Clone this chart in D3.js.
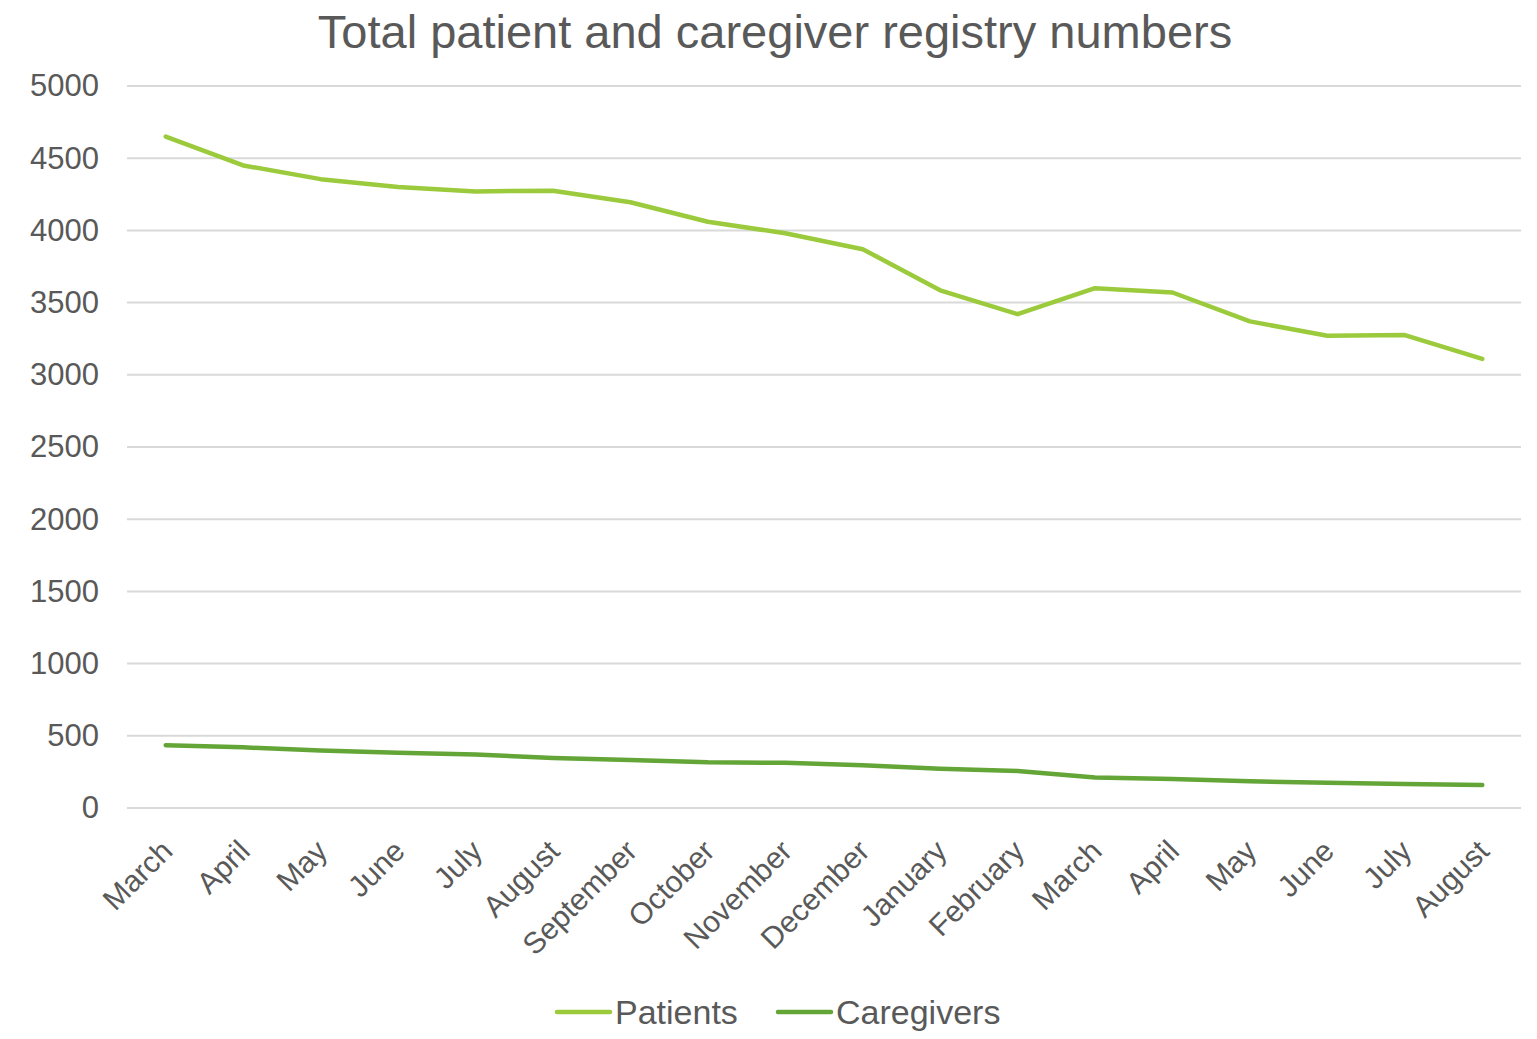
<!DOCTYPE html>
<html>
<head>
<meta charset="utf-8">
<script src="https://cdn.jsdelivr.net/npm/d3@7"></script>
<style>
  body { margin: 0; background: #fff; }
  text { font-family: "Liberation Sans", Arial, sans-serif; fill: #595959; }
</style>
</head>
<body>
<div id="chart-area"></div>
<script>
// months, March of one year through August of the next
var months = ["March", "April", "May", "June", "July", "August", "September",
  "October", "November", "December", "January", "February", "March", "April",
  "May", "June", "July", "August"];

var patients = [4650, 4450, 4355, 4300, 4270, 4275, 4195, 4060, 3980, 3870,
  3585, 3420, 3600, 3570, 3370, 3270, 3275, 3110];

var caregivers = [435, 420, 398, 382, 370, 346, 332, 316, 313, 296,
  271, 257, 212, 200, 185, 175, 167, 160];

var yTicks = [0, 500, 1000, 1500, 2000, 2500, 3000, 3500, 4000, 4500, 5000];

var seriesNames = ["Patients", "Caregivers"];
var colors = ["#9bcb3c", "#63a537"];

var W = 1537, H = 1039;
var margin = { left: 127, right: 16, top: 86, bottom: 231 };
var width = W - margin.left - margin.right;
var height = H - margin.top - margin.bottom;

var svg = d3.select("#chart-area").append("svg")
  .attr("width", W)
  .attr("height", H);

var g = svg.append("g")
  .attr("transform", "translate(" + margin.left + "," + margin.top + ")");

// title
svg.append("text")
  .attr("x", 775)
  .attr("y", 48)
  .attr("text-anchor", "middle")
  .attr("font-size", "47px")
  .text("Total patient and caregiver registry numbers");

// scales
var x = d3.scalePoint()
  .domain(d3.range(months.length))
  .range([0, width])
  .padding(0.5);

var y = d3.scaleLinear()
  .domain([0, 5000])
  .range([height, 0]);

// gridlines
g.selectAll("line.grid")
  .data(yTicks)
  .enter()
  .append("line")
  .attr("class", "grid")
  .attr("x1", 0)
  .attr("x2", width)
  .attr("y1", function(d) { return y(d); })
  .attr("y2", function(d) { return y(d); })
  .attr("stroke", "#d9d9d9")
  .attr("stroke-width", 2);

// Y axis
var yAxisCall = d3.axisLeft(y)
  .tickValues(yTicks)
  .tickFormat(d3.format("d"))
  .tickSize(0)
  .tickPadding(28);
var yAxis = g.append("g")
  .attr("class", "y axis")
  .call(yAxisCall);
yAxis.select(".domain").remove();
yAxis.selectAll("text")
  .attr("font-size", "31px")
  .attr("font-family", "Liberation Sans, Arial, sans-serif")
  .attr("fill", "#595959");

// X axis
var xAxisCall = d3.axisBottom(x)
  .tickSize(0)
  .tickFormat(function(i) { return months[i]; });
var xAxis = g.append("g")
  .attr("class", "x axis")
  .attr("transform", "translate(0," + height + ")")
  .call(xAxisCall);
xAxis.select(".domain").remove();
xAxis.selectAll("text")
  .attr("font-size", "30px")
  .attr("font-family", "Liberation Sans, Arial, sans-serif")
  .attr("fill", "#595959")
  .attr("text-anchor", "end")
  .attr("dy", null)
  .attr("y", 0)
  .attr("transform", "translate(8,45) rotate(-45)");

// lines
var line = d3.line()
  .x(function(d, i) { return x(i); })
  .y(function(d) { return y(d); });

[patients, caregivers].forEach(function(data, k) {
  g.append("path")
    .datum(data)
    .attr("fill", "none")
    .attr("stroke", colors[k])
    .attr("stroke-width", 4.5)
    .attr("stroke-linejoin", "round")
    .attr("stroke-linecap", "round")
    .attr("d", line);
});

// legend
var legendX = [557, 778];
seriesNames.forEach(function(name, k) {
  var lg = svg.append("g")
    .attr("transform", "translate(" + legendX[k] + ",1012)");
  lg.append("line")
    .attr("x1", 0)
    .attr("x2", 53)
    .attr("stroke", colors[k])
    .attr("stroke-width", 4.5)
    .attr("stroke-linecap", "round");
  lg.append("text")
    .attr("x", 58)
    .attr("y", 12)
    .attr("font-size", "34px")
    .text(name);
});
</script>
</body>
</html>
